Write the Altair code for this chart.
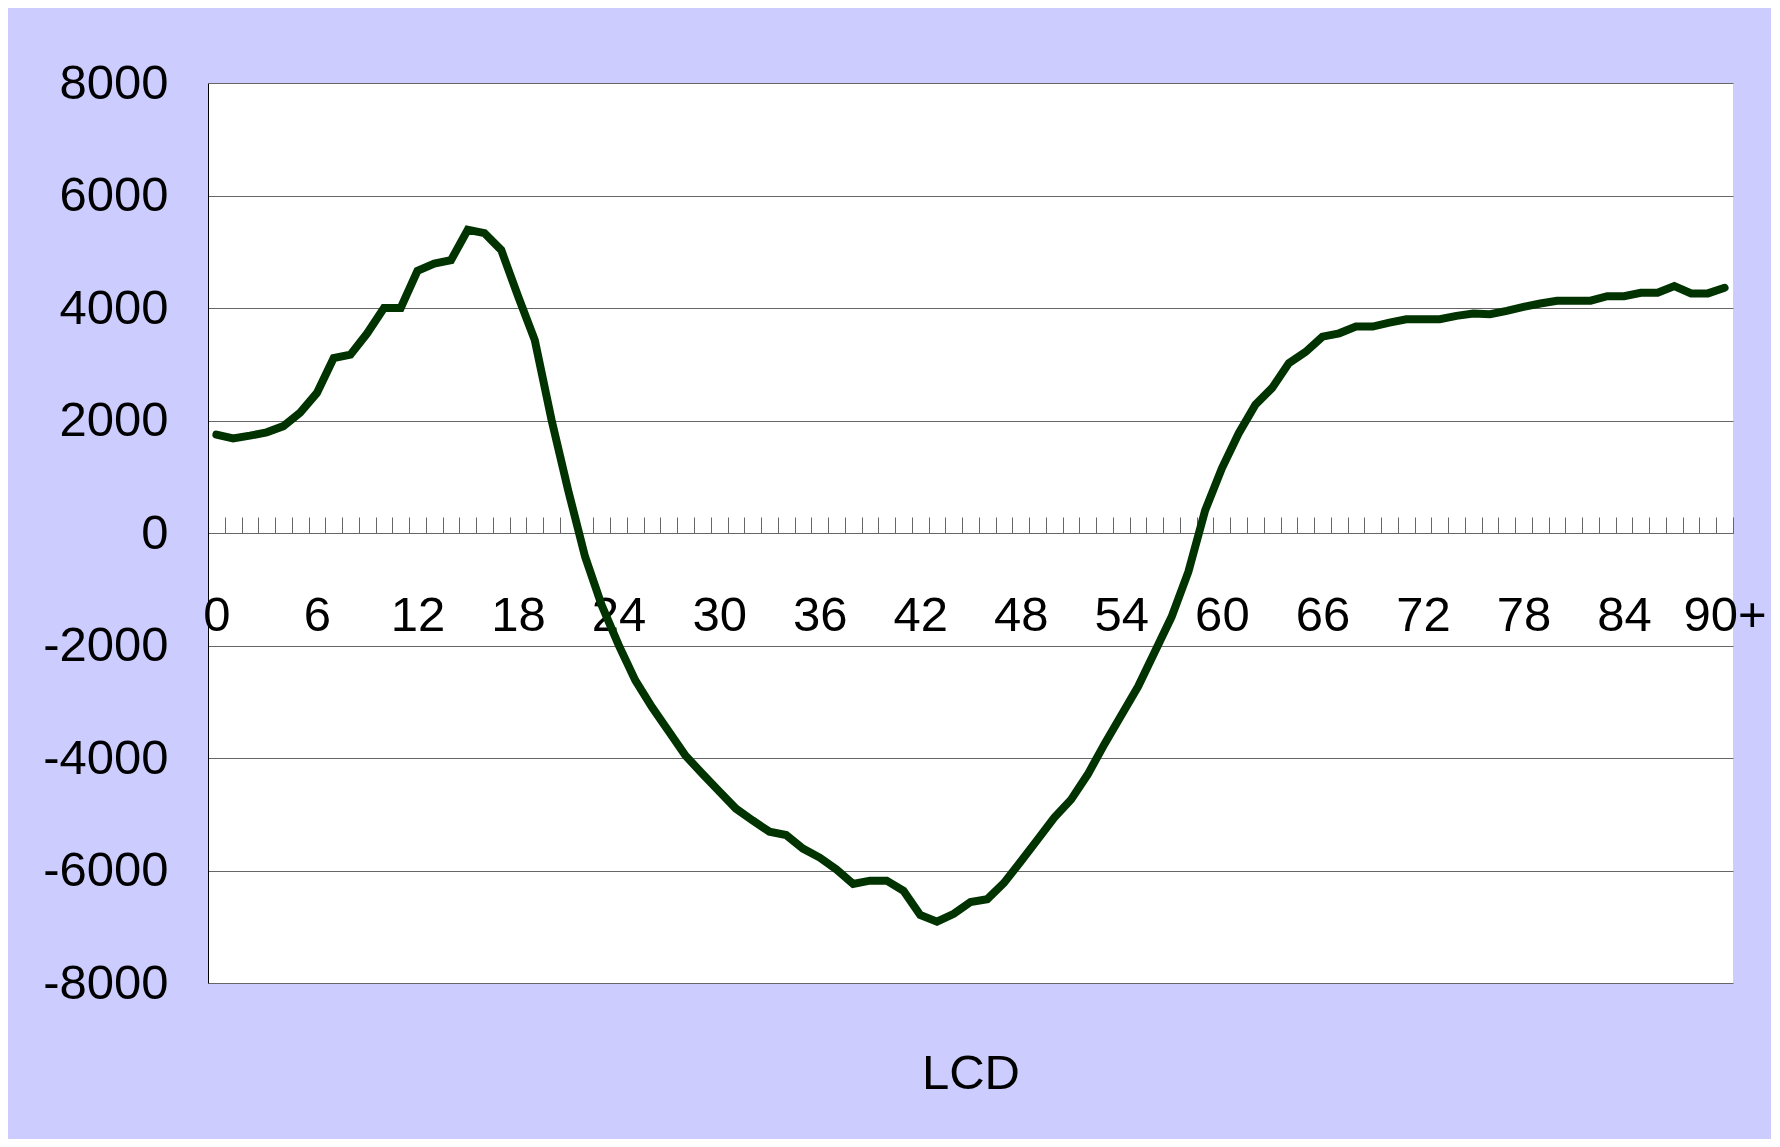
import altair as alt
import pandas as pd

# Categories (x) and series values (y)
ages = [str(i) for i in range(90)] + ["90+"]
values = [
    1750, 1680, 1730, 1790, 1900, 2140, 2490, 3110, 3170, 3550,
    4000, 4000, 4660, 4790, 4850, 5390, 5330, 5030, 4210, 3430,
    2010, 750, -420, -1290, -1990, -2620, -3100, -3530, -3960, -4280,
    -4590, -4900, -5110, -5310, -5370, -5610, -5770, -5980, -6240, -6180,
    -6180, -6360, -6790, -6910, -6770, -6560, -6510, -6220, -5840, -5450,
    -5060, -4740, -4290, -3750, -3240, -2730, -2110, -1490, -690, 400,
    1150, 1770, 2280, 2580, 3020, 3220, 3490, 3550, 3670, 3670,
    3740, 3800, 3800, 3800, 3860, 3900, 3890, 3950, 4020, 4080,
    4130, 4130, 4130, 4210, 4210, 4270, 4270, 4390, 4260, 4260,
    4360,
]
x_label_step = 6
y_ticks = [-8000, -6000, -4000, -2000, 0, 2000, 4000, 6000, 8000]
x_title = "LCD"

df = pd.DataFrame({"idx": list(range(len(ages))), "age": ages, "value": values})

FONT = "Liberation Sans"
FS = 49
GRID = "#666666"

n = len(ages)
xscale = alt.Scale(domain=[-0.5, n - 0.5], nice=False, zero=False)
yscale = alt.Scale(domain=[y_ticks[0], y_ticks[-1]], nice=False, zero=False)

label_vals = list(range(0, n, x_label_step))
label_expr = "datum.value == %d ? '%s' : datum.label" % (n - 1, ages[-1])
boundaries = [i - 0.5 for i in range(n + 1)]

base = alt.Chart(df)

tick_layer = base.mark_line(strokeOpacity=0).encode(
    x=alt.X(
        "idx:Q",
        scale=xscale,
        axis=alt.Axis(
            orient="top", offset=-450, values=boundaries, labels=False,
            domain=True, domainColor=GRID, domainWidth=1,
            ticks=True, tickSize=16, tickColor=GRID, tickWidth=1,
            grid=False, title=None,
        ),
    ),
    y=alt.Y("value:Q", scale=yscale, axis=None),
)

line = base.mark_line(color="#003300", strokeWidth=8, strokeCap="round").encode(
    x=alt.X(
        "idx:Q",
        scale=xscale,
        axis=alt.Axis(
            orient="bottom", offset=-450, values=label_vals, labelExpr=label_expr,
            domain=False, ticks=False, tickSize=0, grid=False,
            labelPadding=58, labelFontSize=FS, labelFont=FONT, labelColor="black",
            labelFlush=False, labelOverlap=False,
            title=x_title, titleFont=FONT, titleFontSize=FS, titleFontWeight="normal",
            titleColor="black", titleY=555, titleBaseline="alphabetic",
        ),
    ),
    y=alt.Y(
        "value:Q",
        scale=yscale,
        axis=alt.Axis(
            values=y_ticks, grid=True, gridColor=GRID, gridWidth=1,
            domain=True, domainColor="#000000", domainWidth=1,
            ticks=False, tickSize=0, labelPadding=40,
            labelFontSize=FS, labelFont=FONT, labelColor="black",
            labelExpr="'' + datum.value", title=None,
        ),
    ),
)

chart = (
    alt.layer(tick_layer, line)
    .resolve_axis(x="independent", y="independent")
    .properties(
        width=1525,
        height=900,
        autosize=alt.AutoSizeParams(type="none"),
        padding={"left": 200, "top": 75, "right": 38, "bottom": 156},
        background="#CCCCFF",
    )
    .configure_view(fill="white", strokeWidth=0)
)

chart.save("out.html", embed_options={"renderer": "svg", "actions": False})
